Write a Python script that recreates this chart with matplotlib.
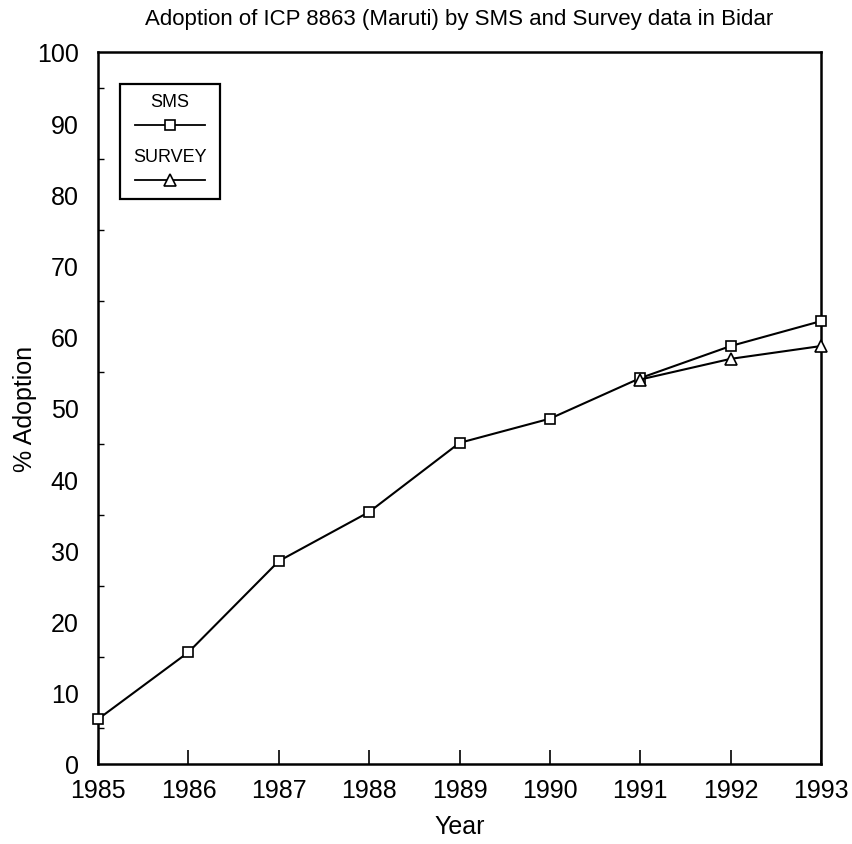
import matplotlib
matplotlib.use("Agg")
from matplotlib import pyplot as plt
from matplotlib.patches import Rectangle
from matplotlib.ticker import MultipleLocator

plt.rcParams["font.family"] = ["Liberation Sans", "DejaVu Sans"]

years = [1985, 1986, 1987, 1988, 1989, 1990, 1991, 1992, 1993]
sms = [6.3, 15.7, 28.5, 35.4, 45.1, 48.5, 54.2, 58.7, 62.2]
survey_years = [1991, 1992, 1993]
survey = [54.0, 56.9, 58.7]

fig = plt.figure(figsize=(8.53, 8.45), dpi=100)
ax = fig.add_axes([0.115, 0.0947, 0.8475, 0.8426])

ax.plot(years, sms, "k-", lw=1.5, marker="s", ms=7, mfc="white", mec="k",
        mew=1.2, clip_on=False, zorder=3)
ax.plot(survey_years, survey, "k-", lw=1.5, marker="^", ms=8, mfc="white",
        mec="k", mew=1.2, clip_on=False, zorder=3)

ax.set_xlim(1985, 1993)
ax.set_ylim(0, 100)
ax.set_xticks(years)
ax.yaxis.set_major_locator(MultipleLocator(10))
ax.yaxis.set_minor_locator(MultipleLocator(5))
ax.tick_params(axis="x", direction="in", length=10, width=1.2, labelsize=18, pad=10)
ax.tick_params(axis="y", which="major", direction="in", length=0, labelsize=18, pad=14)
ax.tick_params(axis="y", which="minor", direction="in", length=4, width=1)
for s in ax.spines.values():
    s.set_linewidth(1.8)

ax.set_title("Adoption of ICP 8863 (Maruti) by SMS and Survey data in Bidar",
             fontsize=16, pad=20)
ax.set_xlabel("Year", fontsize=18, labelpad=9)
ax.set_ylabel("% Adoption", fontsize=18, labelpad=0)

# legend box with labels above the line samples
ax.add_patch(Rectangle((0.030, 0.794), 0.139, 0.161, transform=ax.transAxes,
                       fill=False, lw=1.6, ec="k", zorder=4))
ax.text(0.0995, 0.930, "SMS", transform=ax.transAxes, ha="center", va="center",
        fontsize=13)
ax.plot([0.051, 0.148], [0.897, 0.897], "k-", lw=1.3,
        transform=ax.transAxes, zorder=4)
ax.plot([0.0995], [0.897], "s", ms=7, mfc="white", mec="k", mew=1.2,
        transform=ax.transAxes, zorder=5)
ax.text(0.0995, 0.853, "SURVEY", transform=ax.transAxes, ha="center", va="center",
        fontsize=13)
ax.plot([0.051, 0.148], [0.820, 0.820], "k-", lw=1.3,
        transform=ax.transAxes, zorder=4)
ax.plot([0.0995], [0.820], "^", ms=8, mfc="white", mec="k", mew=1.2,
        transform=ax.transAxes, zorder=5)

fig.savefig("out.png", dpi=100)
